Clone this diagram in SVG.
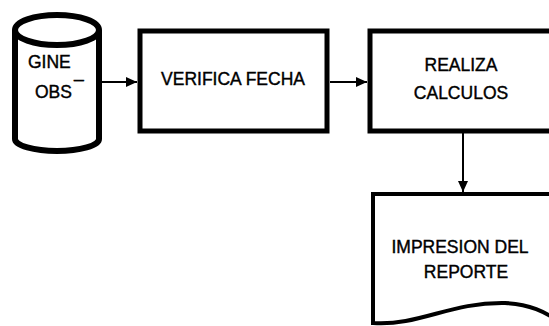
<svg xmlns="http://www.w3.org/2000/svg" width="549" height="326" viewBox="0 0 549 326">
<defs>
<style>
.shape{fill:#fff;stroke:#000;stroke-width:5}
.cyl{fill:#fff;stroke:#000;stroke-width:6}
.doc{fill:#fff;stroke:#000;stroke-width:4}
.conn{fill:none;stroke:#000;stroke-width:2}
text{font-family:"Liberation Sans",Arial,sans-serif;font-size:17.5px;fill:#000;stroke:#000;stroke-width:0.4}
.c{text-anchor:middle}
</style>
<marker id="ah" viewBox="0 0 11 10" refX="11" refY="5" markerWidth="11" markerHeight="10" markerUnits="userSpaceOnUse" orient="auto">
<path d="M0,0 L11,5 L0,10 Z" fill="#000"/>
</marker>
</defs>
<rect width="549" height="326" fill="#fff"/>
<g id="connectors">
<line class="conn" x1="101" y1="82" x2="137" y2="82" marker-end="url(#ah)"/>
<line class="conn" x1="330" y1="82" x2="367" y2="82" marker-end="url(#ah)"/>
<line class="conn" x1="463" y1="133" x2="463" y2="192" marker-end="url(#ah)"/>
</g>
<g id="gine_obs">
<path class="cyl" d="M15,30 V139 A42,12 0 0 0 99,139 V30"/>
<ellipse class="cyl" cx="57" cy="30" rx="42" ry="15"/>
<text x="28" y="68">GINE</text>
<text x="35" y="98">OBS</text>
<text x="74" y="77">_</text>
</g>
<g id="verifica_fecha">
<rect class="shape" x="140" y="31" width="187" height="100"/>
<text class="c" x="233" y="85">VERIFICA FECHA</text>
</g>
<g id="realiza_calculos">
<rect class="shape" x="370" y="31" width="200" height="100"/>
<text class="c" x="461" y="71">REALIZA</text>
<text class="c" x="461" y="99">CALCULOS</text>
</g>
<g id="impresion_reporte">
<path class="doc" d="M560,194 H373 V323 C420,326 450,302 505,303 C530,304 545,312 560,322"/>
<text class="c" x="460" y="253">IMPRESION DEL</text>
<text class="c" x="466" y="278">REPORTE</text>
</g>
</svg>
